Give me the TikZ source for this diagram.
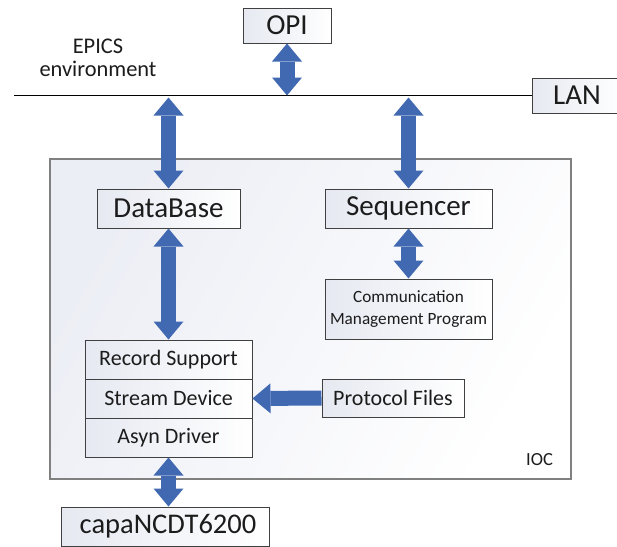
\documentclass[tikz,border=0pt]{standalone}
\usepackage{fontspec}
\setmainfont{Carlito}
\usetikzlibrary{arrows.meta,calc}
\definecolor{arrowblue}{HTML}{4169B2}
\definecolor{boxline}{HTML}{404040}
\definecolor{iocline}{HTML}{808080}
\definecolor{txt}{HTML}{1C1C1C}
\definecolor{shadeL}{HTML}{E6E9F1}
\definecolor{shadeI}{HTML}{ECEEF5}
\tikzset{
  boxnode/.style={draw=boxline, line width=1pt, left color=shadeL, right color=white,
    inner sep=0pt, text=txt},
  bigtext/.style={font=\fontsize{29}{30}\selectfont},
  midtext/.style={font=\fontsize{22}{24}\selectfont},
  dbl/.style={draw=arrowblue, line width=15pt, {Triangle[width=30pt,length=18pt,line width=0pt]}-{Triangle[width=30pt,length=18pt,line width=0pt]}},
  sgl/.style={draw=arrowblue, line width=15pt, -{Triangle[width=30pt,length=18pt,line width=0pt]}},
}
\begin{document}
\begin{tikzpicture}[x=1pt,y=-1pt]
\useasboundingbox (0,0) rectangle (617,546);
\fill[white] (0,0) rectangle (617,546);

% IOC container
\node[draw=iocline, line width=1.3pt, left color=shadeI, right color=white, shading angle=60,
      minimum width=521pt, minimum height=320pt, inner sep=0pt] (ioc) at (310.5,319) {};
\node[anchor=base, text=txt, font=\fontsize{18.5}{20}\selectfont] (ioclabel) at (539.5,465) {IOC};

% top
\node[boxnode, bigtext, minimum width=88pt, minimum height=35pt] (opi) at (287,25.5) {OPI};
\node[boxnode, bigtext, minimum width=90pt, minimum height=35pt] (lan) at (577,95.5) {LAN};
\coordinate (lanL) at (14,95.5);
\draw[line width=1pt, black] (lanL) -- (lan.west);
\coordinate (busY) at (0,97.5);
\node[align=center, text=txt, font=\fontsize{22.4}{23}\selectfont] (epics) at (98,58) {EPICS\\environment};

% IOC internals
\node[boxnode, bigtext, minimum width=143pt, minimum height=39pt] (db) at (168.5,208.5) {DataBase};
\node[boxnode, bigtext, minimum width=167pt, minimum height=39pt] (seq) at (408.5,208.5) {Sequencer};
\node[boxnode, align=center, font=\fontsize{17.2}{21.5}\selectfont, minimum width=167pt, minimum height=60pt] (cmp) at (408.5,309) {Communication\\Management Program};
\node[boxnode, midtext, minimum width=167pt, minimum height=39pt] (rec) at (168.5,359.5) {Record Support};
\node[boxnode, midtext, minimum width=167pt, minimum height=39pt] (sd) at (168.5,398.5) {Stream Device};
\node[boxnode, midtext, minimum width=167pt, minimum height=39pt] (asyn) at (168.5,437.5) {Asyn Driver};
\node[boxnode, midtext, minimum width=142pt, minimum height=38pt] (pf) at (393,398) {Protocol Files};

% device
\node[boxnode, font=\fontsize{28.5}{30}\selectfont, minimum width=208pt, minimum height=39pt] (capa) at (165,526.5) {\hspace*{6pt}capaNCDT6200};

% arrows
\draw[dbl] (opi.south) -- (opi.south |- lanL);
\draw[dbl] (db.north) -- (db.north |- busY);
\draw[dbl] (seq.north) -- (seq.north |- busY);
\draw[dbl] (db.south) -- (rec.north);
\draw[dbl] (seq.south) -- (cmp.north);
\draw[sgl] (pf.west) -- (sd.east);
\draw[dbl] (asyn.south) -- (asyn.south |- capa.north);
\end{tikzpicture}
\end{document}
